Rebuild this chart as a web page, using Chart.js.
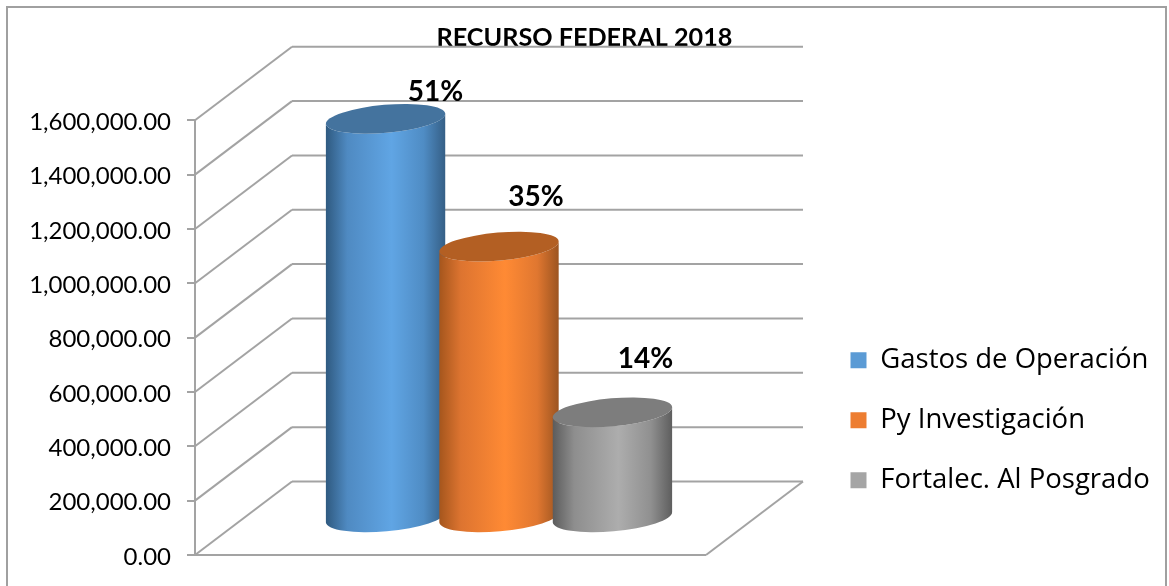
<!DOCTYPE html>
<html>
<head>
<meta charset="utf-8">
<style>
  html, body { margin: 0; padding: 0; background: #fff; }
  #wrap { width: 1169px; height: 586px; }
</style>
<script src="https://cdn.jsdelivr.net/npm/chart.js@4/dist/chart.umd.js"></script>
</head>
<body>
<div id="wrap"><canvas id="myChart" width="1169" height="586"></canvas></div>
<script>
const seriesNames = ["Gastos de Operación", "Py Investigación", "Fortalec. Al Posgrado"];
const seriesValues = [1470000, 1000000, 390000];
const percentLabels = ["51%", "35%", "14%"];
const titleText = "RECURSO FEDERAL 2018";

const legendColors = ["#5B9BD5", "#ED7D31", "#A5A5A5"];
const bodyColors = [
    ["#2f5a80", "#4f8ac2", "#60a5e4", "#4f8cc4", "#355f86"],
    ["#a5561d", "#dd7430", "#ff8a34", "#e07730", "#9c5420"],
    ["#5c5c5c", "#8e8e8e", "#adadad", "#909090", "#5e5e5e"],
];
const capColors = ["#44739e", "#b35f23", "#7d7d7d"];
const gridColor = "#a3a3a3";

// depth of the fake 3d box, in pixels
const depthX = 97;
const depthY = 73.5;
// where each percent label sits, relative to the top of its cylinder
const labelShift = [[50, -27], [37, -50], [33, -53]];

function line(ctx, x1, y1, x2, y2) {
    ctx.beginPath();
    ctx.moveTo(x1, y1);
    ctx.lineTo(x2, y2);
    ctx.stroke();
}

function drawWalls(chart) {
    const ctx = chart.ctx;
    const area = chart.chartArea;
    const yScale = chart.scales.y;
    ctx.save();
    ctx.strokeStyle = gridColor;
    ctx.lineWidth = 2;
    yScale.ticks.forEach(function (tick) {
        const y = yScale.getPixelForValue(tick.value);
        line(ctx, area.left, y, area.left + depthX, y - depthY);
        line(ctx, area.left + depthX, y - depthY, area.right + depthX, y - depthY);
    });
    line(ctx, area.left, area.bottom, area.right, area.bottom);
    line(ctx, area.right, area.bottom, area.right + depthX, area.bottom - depthY);
    ctx.restore();
}

function drawCylinder(ctx, bar, index) {
    const rx = bar.width * 0.528;
    const ry = 14;
    const tilt = -5 * Math.PI / 180;
    const cx = bar.x + depthX / 2;
    const topY = bar.y - depthY / 2;
    const baseY = bar.base - depthY / 2;
    const dx = rx * Math.cos(tilt);
    const dy = rx * Math.sin(tilt);

    const grad = ctx.createLinearGradient(cx - dx, 0, cx + dx, 0);
    const stops = [0, 0.18, 0.55, 0.82, 1];
    stops.forEach(function (s, i) { grad.addColorStop(s, bodyColors[index][i]); });

    ctx.beginPath();
    ctx.moveTo(cx - dx, topY - dy);
    ctx.lineTo(cx - dx, baseY - dy);
    ctx.ellipse(cx, baseY, rx, ry, tilt, Math.PI, 0, true);
    ctx.lineTo(cx + dx, topY + dy);
    ctx.ellipse(cx, topY, rx, ry, tilt, 0, Math.PI, false);
    ctx.closePath();
    ctx.fillStyle = grad;
    ctx.fill();

    ctx.beginPath();
    ctx.ellipse(cx, topY, rx, ry, tilt, 0, Math.PI * 2);
    ctx.fillStyle = capColors[index];
    ctx.fill();
}

const cylinders = {
    id: "cylinders",
    beforeInit(chart) {
        // keep the room on the right of the plot for the legend
        const legend = chart.legend;
        const fit = legend.fit;
        legend.fit = function () {
            fit.call(this);
            this.width = 463;
        };
    },
    beforeDraw(chart) {
        const ctx = chart.ctx;
        ctx.save();
        ctx.fillStyle = "#fff";
        ctx.fillRect(0, 0, chart.width, chart.height);
        ctx.strokeStyle = "#a0a0a0";
        ctx.lineWidth = 2;
        ctx.strokeRect(7, 7, 1159, 590);
        ctx.restore();
    },
    afterLayout(chart) {
        const legend = chart.legend;
        legend.left = 818;
        legend.right = 1169;
        legend.top = 314;
        legend.bottom = 586;
    },
    beforeDatasetsDraw(chart) {
        const ctx = chart.ctx;
        drawWalls(chart);
        ctx.save();
        chart.data.datasets.forEach(function (ds, i) {
            drawCylinder(ctx, chart.getDatasetMeta(i).data[0], i);
        });
        ctx.fillStyle = "#000";
        ctx.font = "bold 28px Lato";
        ctx.textAlign = "center";
        ctx.textBaseline = "middle";
        chart.data.datasets.forEach(function (ds, i) {
            const bar = chart.getDatasetMeta(i).data[0];
            ctx.fillText(percentLabels[i],
                bar.x + depthX / 2 + labelShift[i][0],
                bar.y - depthY / 2 + labelShift[i][1]);
        });
        ctx.restore();
        return false;
    },
};

const ctx = document.getElementById("myChart").getContext("2d");
const myChart = new Chart(ctx, {
    type: "bar",
    data: {
        labels: [""],
        datasets: seriesNames.map(function (name, i) {
            return { label: name, data: [seriesValues[i]], backgroundColor: legendColors[i], borderWidth: 0 };
        }),
    },
    options: {
        responsive: false,
        animation: false,
        layout: { padding: { left: 0, right: 0, top: 0, bottom: 31 } },
        datasets: { bar: { categoryPercentage: 0.666, barPercentage: 1 } },
        plugins: {
            tooltip: { enabled: false },
            title: {
                display: true,
                text: titleText,
                color: "#000",
                font: { family: "Lato", size: 25.2, weight: "bold" },
                padding: { top: 23, bottom: 67 },
            },
            legend: {
                position: "right",
                align: "start",
                labels: {
                    boxWidth: 16,
                    boxHeight: 16,
                    padding: 32.5,
                    color: "#000",
                    font: { family: "Open Sans", size: 27.5 },
                },
            },
        },
        scales: {
            x: { display: false, grid: { display: false } },
            y: {
                min: 0,
                max: 1600000,
                afterFit(scale) { scale.width = 195; },
                border: { color: gridColor, width: 2 },
                grid: { drawOnChartArea: false, color: gridColor, lineWidth: 2, tickLength: 8 },
                ticks: {
                    stepSize: 200000,
                    padding: 16,
                    labelOffset: 2,
                    color: "#000",
                    font: { family: "Lato", size: 24 },
                    callback(v) {
                        return v.toLocaleString("en-US", { minimumFractionDigits: 2, maximumFractionDigits: 2 });
                    },
                },
            },
        },
    },
    plugins: [cylinders],
});
</script>
</body>
</html>
